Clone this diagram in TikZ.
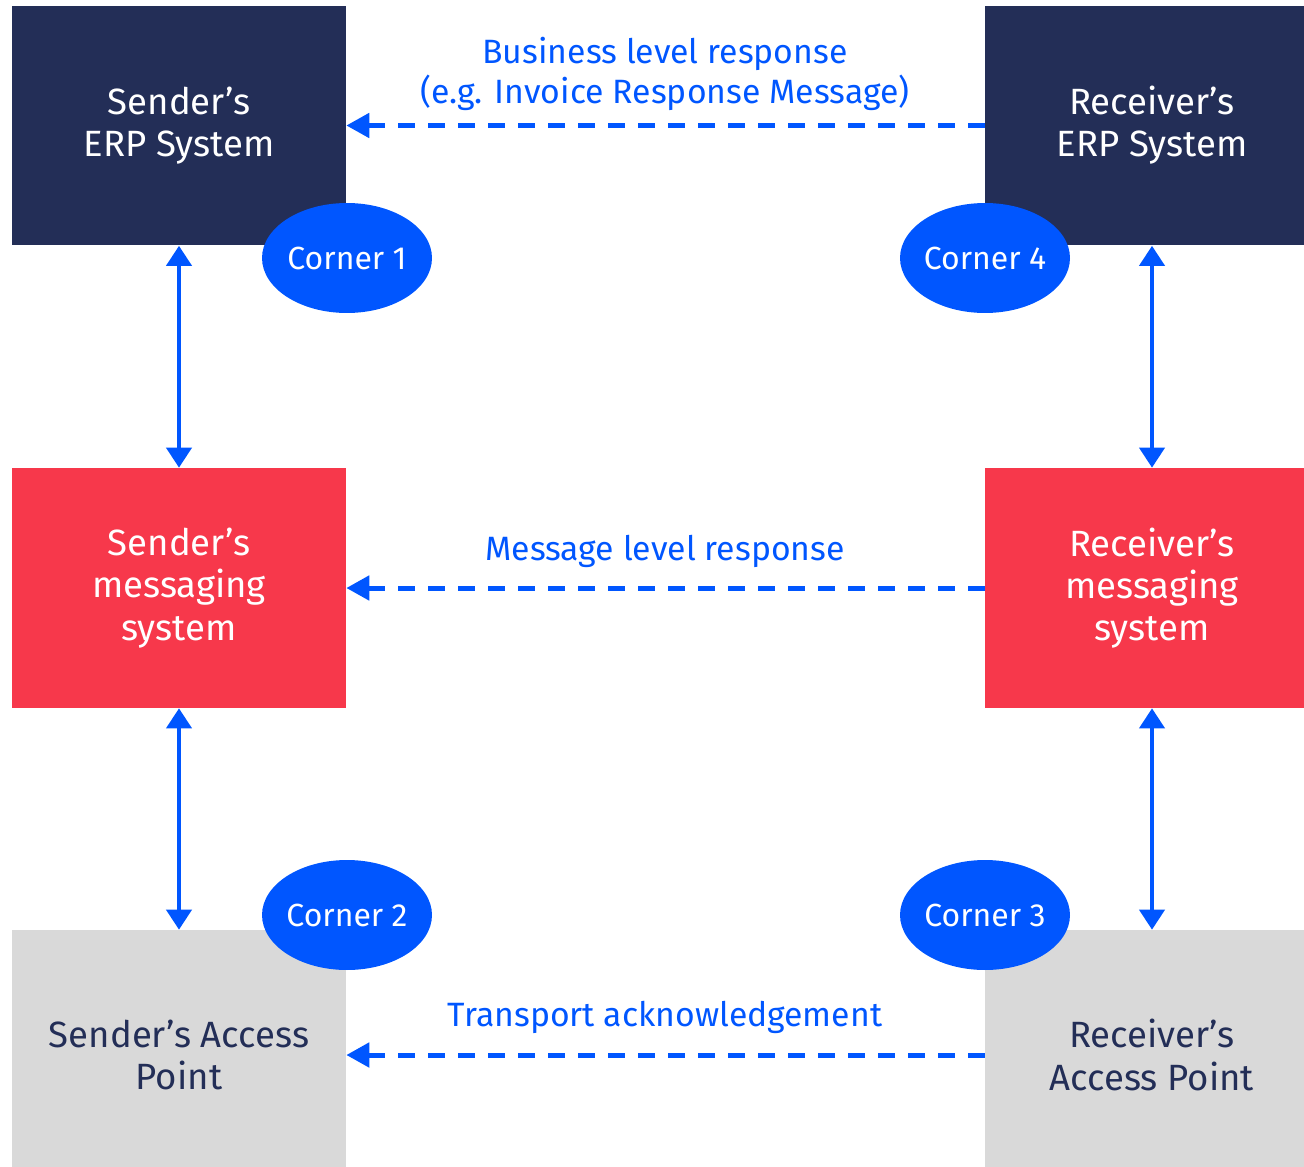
\documentclass[tikz,border=0pt]{standalone}
\usepackage{fontspec}
\setmainfont{Fira Sans}
\usepackage{tikz}
\usetikzlibrary{arrows.meta, shapes.geometric}

\definecolor{navy}{HTML}{232E57}
\definecolor{redbox}{HTML}{F7384B}
\definecolor{greybox}{HTML}{D9D9D9}
\definecolor{blue4}{HTML}{0056FF}

\begin{document}
\begin{tikzpicture}[x=0.02cm, y=-0.02cm,
		box/.style={minimum width=6.68cm, minimum height=4.8cm, inner sep=0pt,
			align=center, font=\fontsize{20.8}{24}\selectfont},
		erp/.style={box, fill=navy, text=white},
		msg/.style={box, fill=redbox, text=white},
		ap/.style={box, fill=greybox, text=navy, minimum height=5cm},
		corner/.style={ellipse, fill=blue4, text=white, minimum width=3.4cm,
			minimum height=2.2cm, inner sep=0pt, font=\fontsize{18.2}{22}\selectfont},
		lbl/.style={text=blue4, align=center, font=\fontsize{19.2}{22.5}\selectfont},
		link/.style={blue4, line width=0.08cm, {Triangle[length=0.4cm, width=0.5cm]}-{Triangle[length=0.4cm, width=0.5cm]}},
		resp/.style={blue4, line width=0.1cm, dash pattern=on 0.34cm off 0.26cm,
			-{Triangle[length=0.46cm, width=0.48cm]}}
	]
		\clip (0,0) rectangle (1304,1166);

		% boxes
		\node[erp] (serp) at (179,125.5) {Sender's\\ERP System};
		\node[erp] (rerp) at (1152,125.5) {Receiver's\\ERP System};
		\node[msg] (smsg) at (179,588) {Sender's\\messaging\\system};
		\node[msg] (rmsg) at (1152,588) {Receiver's\\messaging\\system};
		\node[ap] (sap) at (179,1055) {Sender's Access\\Point};
		\node[ap] (rap) at (1152,1055) {Receiver's\\Access Point};

		% corners (text kept in a zero box so the ellipse keeps its size)
		\node[corner] (c1) at (347,258) {\makebox[0pt]{Corner 1}};
		\node[corner] (c4) at (985,258) {\makebox[0pt]{Corner 4}};
		\node[corner] (c2) at (347,915) {\makebox[0pt]{Corner 2}};
		\node[corner] (c3) at (985,915) {\makebox[0pt]{Corner 3}};

		% vertical links
		\draw[link] (serp.south) -- (smsg.north);
		\draw[link] (smsg.south) -- (sap.north);
		\draw[link] (rerp.south) -- (rmsg.north);
		\draw[link] (rmsg.south) -- (rap.north);

		% responses
		\draw[resp] (rerp.west) -- (serp.east);
		\draw[resp] (rmsg.west) -- (smsg.east);
		\draw[resp] (rap.west) -- (sap.east);

		\node[lbl] (blr) at (665,74) {Business level response\\(e.g. Invoice Response Message)};
		\node[lbl] (mlr) at (665,551) {Message level response};
		\node[lbl] (tack) at (665,1017) {Transport acknowledgement};

\end{tikzpicture}
\end{document}
